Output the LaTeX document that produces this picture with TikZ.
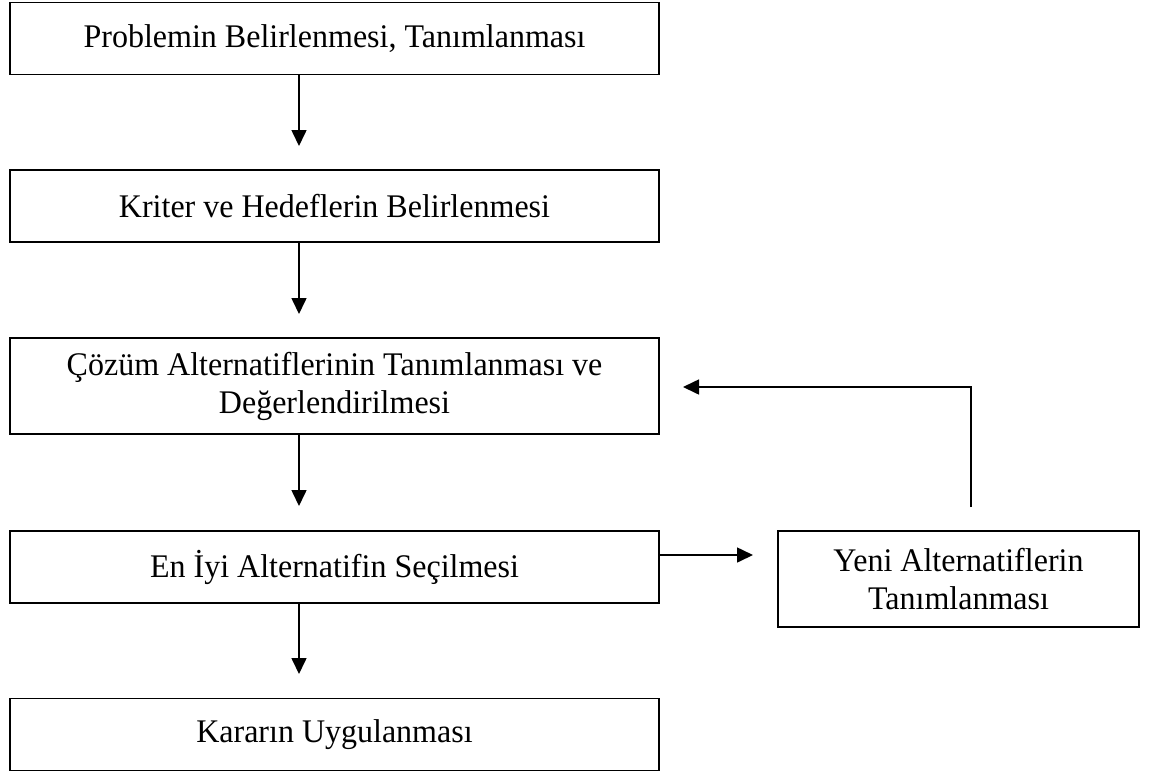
\documentclass[tikz,border=0pt]{standalone}
\usepackage{fontspec}
\setmainfont{Liberation Serif}[FakeStretch=0.97]
\usetikzlibrary{arrows.meta}
\begin{document}
\begin{tikzpicture}[x=0.5pt,y=-0.5pt,font=\fontsize{16.5}{19}\selectfont,
        kutu/.style={draw,line width=0.8pt,minimum width=324.5pt,minimum height=36pt,align=center,inner sep=0pt},
        ok/.style={line width=0.8pt,-{Triangle[length=8pt,width=7.5pt]}}]
            \useasboundingbox (0,0) rectangle (1153,773);
            \node[kutu] (k1) at (334.5,38.5) {Problemin Belirlenmesi, Tanımlanması};
            \node[kutu] (k2) at (334.5,206) {Kriter ve Hedeflerin Belirlenmesi};
            \node[kutu,minimum height=48pt] (k3) at (334.5,386) {Çözüm Alternatiflerinin Tanımlanması ve\\Değerlendirilmesi};
            \node[kutu] (k4) at (334.5,567) {En İyi Alternatifin Seçilmesi};
            \node[kutu] (k5) at (334.5,734.5) {Kararın Uygulanması};
            \node[kutu,minimum width=180.5pt,minimum height=48pt] (k6) at (958.5,579) {Yeni Alternatiflerin\\Tanımlanması};
            \coordinate (u1) at (299,146);
            \coordinate (u2) at (299,314);
            \coordinate (u3) at (299,506);
            \coordinate (u4) at (299,674);
            \coordinate (u5) at (753,555);
            \coordinate (g) at (971,507);
            \coordinate (u6) at (683,387);
            \draw[ok] (k1.south -| u1)--(u1);
            \draw[ok] (k2.south -| u2)--(u2);
            \draw[ok] (k3.south -| u3)--(u3);
            \draw[ok] (k4.south -| u4)--(u4);
            \draw[ok] (k4.east |- u5)--(u5);
            \draw[ok] (g) |- (u6);
        \end{tikzpicture}
\end{document}
